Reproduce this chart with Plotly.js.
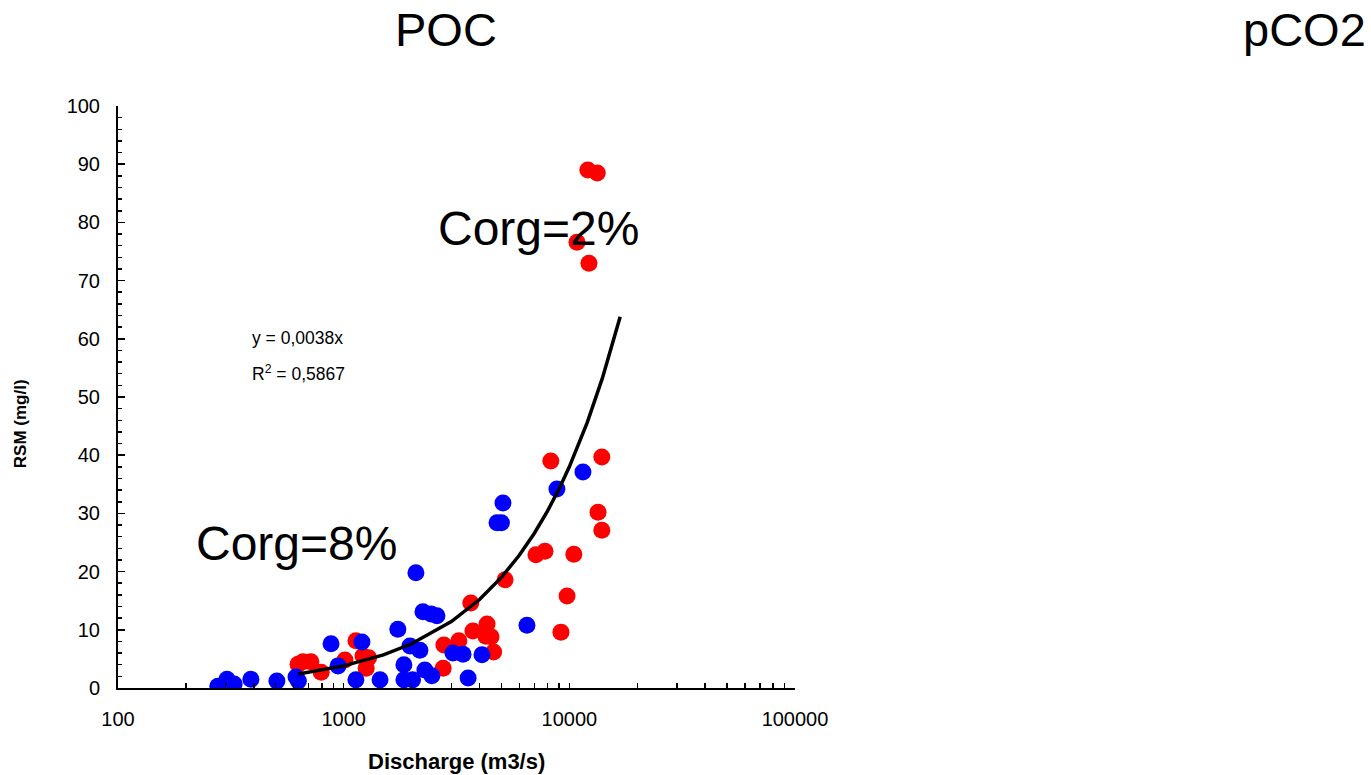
<!DOCTYPE html>
<html>
<head>
<meta charset="utf-8">
<script src="https://cdn.plot.ly/plotly-3.0.1.min.js"></script>
<style>html,body{margin:0;padding:0;background:#fff;}#chart{width:1371px;height:775px;}</style>
</head>
<body>
<div id="chart"></div>
<script>
// Blue series (discharge m3/s, RSM mg/l)
const blueX = [277,304,327,388,506,615,630,879,944,1133,1205,1449,1738,1849,1849,1967,2020,2090,2177,2245,2290,2440,2460,2590,3050,3380,3560,4100,4780,5000,5080,6490,8810,11490];
const blueY = [0.3,1.5,0.7,1.5,1.2,1.9,1.2,7.6,3.8,1.4,7.9,1.4,10.1,4.0,1.4,7.2,1.4,19.8,6.5,13.1,3.1,12.7,2.1,12.4,6.0,5.8,1.7,5.7,28.4,28.4,31.8,10.8,34.2,37.1];
// Red series
const redX = [628,660,716,795,1013,1133,1218,1258,1290,2760,2780,3240,3660,3740,4270,4320,4500,4620,5190,7110,7800,8280,9180,9770,10470,10810,12080,12220,13300,13400,13930,13930];
const redY = [4.1,4.5,4.5,2.7,4.8,8.1,5.5,3.4,5.2,3.4,7.4,8.1,14.6,9.8,8.9,11.0,8.8,6.2,18.6,22.9,23.5,39.0,9.6,15.8,23.0,76.6,89.0,73.0,88.5,30.2,39.7,27.1];
// Trend line points
const trendX = [630,1000,1500,2000,3000,4000,5000,6000,7000,8000,9000,10000,12000,14000,16800];
const trendY = [2.4,3.8,5.7,7.6,11.4,15.2,19.0,22.8,26.6,30.4,34.2,38.0,45.6,53.2,63.8];
// Tick values / labels
const xMajorVals = [100,1000,10000,100000];
const xMajorText = ['100','1000','10000','100000'];
const xMinorVals = [200,300,400,500,600,700,800,900,2000,3000,4000,5000,6000,7000,8000,9000,20000,30000,40000,50000,60000,70000,80000,90000];

const FONT = 'Liberation Sans, Arial, sans-serif';

const traces = [
  {x: redX, y: redY, type: 'scatter', mode: 'markers', marker: {color: '#ff0000', size: 17}, hoverinfo: 'x+y'},
  {x: blueX, y: blueY, type: 'scatter', mode: 'markers', marker: {color: '#0000ff', size: 17}, hoverinfo: 'x+y'},
  {x: trendX, y: trendY, type: 'scatter', mode: 'lines', line: {color: '#000', width: 3.5}, hoverinfo: 'skip'}
];

const layout = {
  width: 1371, height: 775,
  margin: {l: 118, r: 576, t: 106, b: 87},
  paper_bgcolor: '#fff', plot_bgcolor: '#fff',
  showlegend: false,
  font: {family: FONT, color: '#000', size: 20},
  xaxis: {
    type: 'log', range: [2, 5],
    tickmode: 'array', tickvals: xMajorVals, ticktext: xMajorText,
    ticks: 'inside', ticklen: 5, tickwidth: 1.5, tickcolor: '#000',
    minor: {tickmode: 'array', tickvals: xMinorVals, ticks: 'inside', ticklen: 5, tickwidth: 1.5, tickcolor: '#000', showgrid: false},
    showline: true, linecolor: '#000', linewidth: 2,
    showgrid: false, zeroline: false,
    tickfont: {family: FONT, size: 20, color: '#000'},
    ticklabelstandoff: 12
  },
  yaxis: {
    range: [0, 100], dtick: 10,
    ticks: 'inside', ticklen: 7, tickwidth: 1.5, tickcolor: '#000',
    minor: {dtick: 2, ticks: 'inside', ticklen: 4, tickwidth: 1.5, tickcolor: '#000', showgrid: false},
    showline: true, linecolor: '#000', linewidth: 2,
    showgrid: false, zeroline: false,
    tickfont: {family: FONT, size: 20, color: '#000'},
    ticklabelstandoff: 12
  },
  annotations: [
    {text: 'POC', xref: 'paper', yref: 'paper', x: 0.4845, y: 1.1306, xanchor: 'center', yanchor: 'middle', showarrow: false, font: {family: FONT, size: 47, color: '#000'}},
    {text: 'pCO2', xref: 'paper', yref: 'paper', x: 1.753, y: 1.1306, xanchor: 'center', yanchor: 'middle', showarrow: false, font: {family: FONT, size: 47, color: '#000'}},
    {text: 'Corg=2%', xref: 'x', yref: 'y', x: 3.865, y: 79.0, xanchor: 'center', yanchor: 'middle', showarrow: false, font: {family: FONT, size: 48, color: '#000'}},
    {text: 'Corg=8%', xref: 'x', yref: 'y', x: 2.793, y: 24.9, xanchor: 'center', yanchor: 'middle', showarrow: false, font: {family: FONT, size: 48, color: '#000'}},
    {text: 'y = 0,0038x', xref: 'x', yref: 'y', x: 2.585, y: 60.1, xanchor: 'left', yanchor: 'middle', showarrow: false, font: {family: FONT, size: 17.5, color: '#000'}},
    {text: 'R<sup>2</sup> = 0,5867', xref: 'x', yref: 'y', x: 2.585, y: 54.1, xanchor: 'left', yanchor: 'middle', showarrow: false, font: {family: FONT, size: 17.5, color: '#000'}},
    {text: '<b>Discharge (m3/s)</b>', xref: 'paper', yref: 'paper', x: 0.4993, y: -0.127, xanchor: 'center', yanchor: 'middle', showarrow: false, font: {family: FONT, size: 22, color: '#000'}},
    {text: '<b>RSM (mg/l)</b>', xref: 'paper', yref: 'paper', x: -0.1448, y: 0.455, xanchor: 'center', yanchor: 'middle', textangle: -90, showarrow: false, font: {family: FONT, size: 17, color: '#000'}}
  ]
};

Plotly.newPlot('chart', traces, layout, {displayModeBar: false, staticPlot: true});
</script>
</body>
</html>
